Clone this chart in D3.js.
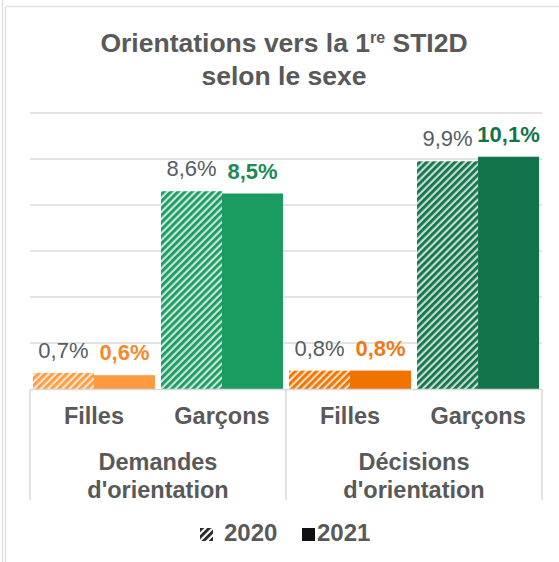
<!DOCTYPE html>
<html>
<head>
<meta charset="utf-8">
<script src="https://cdn.jsdelivr.net/npm/d3@7"></script>
<style>
  html, body { margin: 0; padding: 0; background: #fff; }
  svg { display: block; font-family: "Liberation Sans", Arial, sans-serif; }
</style>
</head>
<body>
<div id="chart"></div>
<script>
const categories = ["Filles", "Garçons", "Filles", "Garçons"];
const groups = [["Demandes", "d'orientation"], ["Décisions", "d'orientation"]];
const years = ["2020", "2021"];
const values2020 = [0.7, 8.6, 0.8, 9.9];
const values2021 = [0.6, 8.5, 0.8, 10.1];
const barColors = ["#FF9A40", "#1A9B60", "#F07300", "#12744A"];
const label2021Colors = ["#F7892A", "#1C8A57", "#EF7A12", "#13744A"];
const yTicks = [2, 4, 6, 8, 10, 12];

const width = 559, height = 562;
const textColor = "#595959";

const svg = d3.select("#chart").append("svg")
  .attr("width", width)
  .attr("height", height);

// frame lines
svg.append("line").attr("x1", 2.5).attr("x2", 2.5).attr("y1", 0).attr("y2", height)
  .attr("stroke", "#e2e2e2").attr("stroke-width", 1.5);
svg.append("line").attr("x1", 5.5).attr("x2", 5.5).attr("y1", 6.5).attr("y2", height)
  .attr("stroke", "#e2e2e2").attr("stroke-width", 1.5);
svg.append("line").attr("x1", 5.5).attr("x2", width).attr("y1", 6.5).attr("y2", 6.5)
  .attr("stroke", "#e2e2e2").attr("stroke-width", 1.5);

// hatch patterns
const defs = svg.append("defs");
function hatch(id, color, bg) {
  const p = defs.append("pattern")
    .attr("id", id)
    .attr("patternUnits", "userSpaceOnUse")
    .attr("width", 5).attr("height", 5)
    .attr("patternTransform", "rotate(45)");
  p.append("rect").attr("width", 5).attr("height", 5).attr("fill", bg);
  p.append("rect").attr("width", 2.8).attr("height", 5).attr("fill", color);
}
barColors.forEach((c, i) => hatch("hatch" + i, c, d3.interpolateRgb(c, "#fff")(0.75)));
hatch("hatchLegend", "#222", "#fff");

// title
const title = svg.append("text")
  .attr("x", 284).attr("y", 52)
  .attr("text-anchor", "middle")
  .attr("font-size", 26.5).attr("font-weight", "bold")
  .attr("fill", textColor);
title.append("tspan").text("Orientations vers la 1");
title.append("tspan").attr("font-size", 16).attr("dy", -9).text("re");
title.append("tspan").attr("dy", 9).text(" STI2D");
svg.append("text")
  .attr("x", 284).attr("y", 85)
  .attr("text-anchor", "middle")
  .attr("font-size", 26.5).attr("font-weight", "bold")
  .attr("fill", textColor)
  .text("selon le sexe");

// scales
const x = d3.scaleBand()
  .domain(d3.range(categories.length))
  .range([30, 542])
  .paddingInner(0.047)
  .paddingOuter(0.023);

const xYear = d3.scaleBand()
  .domain(years)
  .range([0, x.bandwidth()]);

const y = d3.scaleLinear().domain([0, 12]).range([389, 113]);

// gridlines
svg.append("g").selectAll("line")
  .data(yTicks)
  .join("line")
  .attr("x1", 30).attr("x2", 542)
  .attr("y1", d => y(d)).attr("y2", d => y(d))
  .attr("stroke", "#e3e3e3").attr("stroke-width", 2);

// bars
const data = categories.map((c, i) => ({ i, c, v2020: values2020[i], v2021: values2021[i] }));
const barG = svg.append("g");
data.forEach(d => {
  const x0 = x(d.i);
  barG.append("rect")
    .attr("x", x0 + xYear("2020"))
    .attr("y", y(d.v2020))
    .attr("width", xYear.bandwidth())
    .attr("height", y(0) - y(d.v2020))
    .attr("fill", `url(#hatch${d.i})`);
  barG.append("rect")
    .attr("x", x0 + xYear("2021"))
    .attr("y", y(d.v2021))
    .attr("width", xYear.bandwidth())
    .attr("height", y(0) - y(d.v2021))
    .attr("fill", barColors[d.i]);

  barG.append("text")
    .attr("x", x0 + xYear("2020") + xYear.bandwidth() / 2)
    .attr("y", y(d.v2020) - 15)
    .attr("text-anchor", "middle")
    .attr("font-size", 22)
    .attr("fill", "#555c66")
    .text(d3.format(".1f")(d.v2020).replace(".", ",") + "%");
  barG.append("text")
    .attr("x", x0 + xYear("2021") + xYear.bandwidth() / 2)
    .attr("y", y(d.v2021) - 15)
    .attr("text-anchor", "middle")
    .attr("font-size", 22).attr("font-weight", "bold")
    .attr("fill", label2021Colors[d.i])
    .text(d3.format(".1f")(d.v2021).replace(".", ",") + "%");
});

// category axis (two levels)
const axisG = svg.append("g");
axisG.append("line")
  .attr("x1", 30).attr("x2", 542).attr("y1", y(0) + 0.5).attr("y2", y(0) + 0.5)
  .attr("stroke", "#d9d9d9").attr("stroke-width", 1.5);
[30, 286, 542].forEach(xx => {
  axisG.append("line")
    .attr("x1", xx).attr("x2", xx).attr("y1", y(0)).attr("y2", 500)
    .attr("stroke", "#d9d9d9").attr("stroke-width", 1.5);
});
axisG.selectAll("text.cat")
  .data(data)
  .join("text")
  .attr("class", "cat")
  .attr("x", d => x(d.i) + x.bandwidth() / 2)
  .attr("y", 424)
  .attr("text-anchor", "middle")
  .attr("font-size", 23.5).attr("font-weight", "bold")
  .attr("fill", textColor)
  .text(d => d.c);
groups.forEach((g, gi) => {
  const cx = (x(gi * 2) + x(gi * 2 + 1) + x.bandwidth()) / 2;
  g.forEach((line, li) => {
    axisG.append("text")
      .attr("x", cx)
      .attr("y", 470 + li * 28)
      .attr("text-anchor", "middle")
      .attr("font-size", 23.5).attr("font-weight", "bold")
      .attr("fill", textColor)
      .text(line);
  });
});

// legend
const legend = svg.append("g");
legend.append("rect").attr("x", 200).attr("y", 528).attr("width", 13).attr("height", 13)
  .attr("fill", "url(#hatchLegend)");
legend.append("text").attr("x", 224).attr("y", 541)
  .attr("font-size", 24).attr("font-weight", "bold").attr("fill", textColor)
  .text(years[0]);
legend.append("rect").attr("x", 302).attr("y", 528).attr("width", 13).attr("height", 13)
  .attr("fill", "#111");
legend.append("text").attr("x", 317).attr("y", 541)
  .attr("font-size", 24).attr("font-weight", "bold").attr("fill", textColor)
  .text(years[1]);
</script>
</body>
</html>
